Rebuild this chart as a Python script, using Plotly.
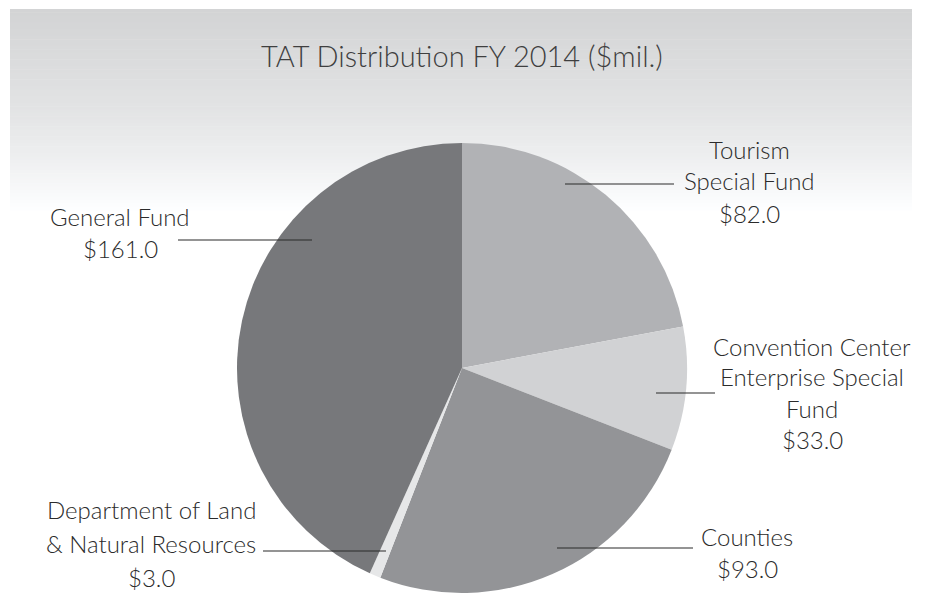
import plotly.graph_objects as go

W, H = 929, 593

labels = ["Tourism Special Fund", "Convention Center Enterprise Special Fund", "Counties",
          "Department of Land & Natural Resources", "General Fund"]
values = [82.0, 33.0, 93.0, 3.0, 161.0]
colors = ["#b1b2b5", "#d1d2d4", "#939497", "#e6e7e8", "#77787b"]

# label text lines per slice, leader line + text placement (in pixels)
label_lines = [["Tourism", "Special Fund"], ["Convention Center", "Enterprise Special", "Fund"],
               ["Counties"], ["Department of Land", "& Natural Resources"], ["General Fund"]]
text_pos = [(749, 149, 32), (812, 346, 31), (747, 536, 32), (151, 509, 34), (120, 216, 32)]
leaders = [(565, 674, 184), (656, 715, 393), (557, 693, 548), (263, 386, 551), (178, 312, 240)]


def px(x):
    return x / W


def py(y):
    return 1 - y / H


cx, cy, r = 462, 368, 225

fig = go.Figure(go.Pie(
    labels=labels, values=values, sort=False, direction="clockwise",
    marker=dict(colors=colors, line=dict(width=0)),
    textinfo="none", showlegend=False,
    domain=dict(x=[px(cx - r), px(cx + r)], y=[max(0, py(cy + r)), py(cy - r)]),
))

# background gradient band (pixel y, grey level)
grad = [(9, 0xd3), (110, 0xe3), (160, 0xef), (210, 0xfe)]
shapes = []
n = 60
top, bot = grad[0][0], grad[-1][0]
for i in range(n):
    y0 = top + (bot - top) * i / n
    y1 = top + (bot - top) * (i + 1) / n
    ym = (y0 + y1) / 2
    for (ya, ca), (yb, cb) in zip(grad[:-1], grad[1:]):
        if ya <= ym <= yb:
            c = int(ca + (cb - ca) * (ym - ya) / (yb - ya))
    shapes.append(dict(type="rect", xref="paper", yref="paper", layer="below",
                       x0=px(10), x1=px(912), y0=py(y1 + 0.5), y1=py(y0),
                       fillcolor=f"rgb({c},{min(c+1,255)},{min(c+2,255)})", line=dict(width=0)))

for (x0, x1, y) in leaders:
    shapes.append(dict(type="line", xref="paper", yref="paper",
                       x0=px(x0), x1=px(x1), y0=py(y), y1=py(y),
                       line=dict(color="#2a2a2a", width=1.2)))

annotations = [dict(text="TAT Distribution FY 2014 ($mil.)", x=px(462), y=py(55),
                    xref="paper", yref="paper", showarrow=False, xanchor="center", yanchor="middle",
                    font=dict(family="Lato", size=29, color="#3f3f3f", weight=300))]

for lines, v, (tx, ty, dy) in zip(label_lines, values, text_pos):
    for k, line in enumerate(lines + [f"${v:.1f}"]):
        annotations.append(dict(text=line, x=px(tx), y=py(ty + k * dy), xref="paper", yref="paper",
                                showarrow=False, xanchor="center", yanchor="middle",
                                font=dict(family="Lato", size=24, color="#2b2b2b", weight=300)))

fig.update_layout(
    width=W, height=H, margin=dict(l=0, r=0, t=0, b=0),
    paper_bgcolor="white", plot_bgcolor="white",
    shapes=shapes, annotations=annotations,
)

fig.write_html("out.html", config={"displayModeBar": False},
               post_script="document.body.style.margin='0';")
